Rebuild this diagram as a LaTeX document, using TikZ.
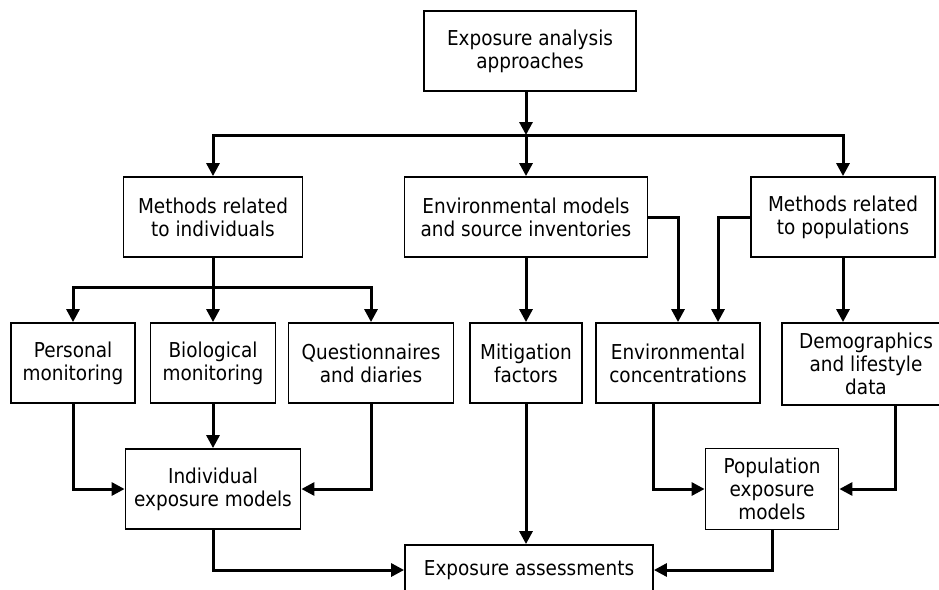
\documentclass[tikz,border=0pt]{standalone}
\usepackage{fontspec}
\setmainfont[FakeStretch=0.9]{DejaVu Sans}
\usetikzlibrary{arrows.meta}
\begin{document}
\begin{tikzpicture}[x=1pt, y=-1pt,
  box/.style={draw, line width=1.8pt, align=center, inner sep=0pt,
    font=\fontsize{20.5}{23}\selectfont},
  conn/.style={line width=3pt},
  arr/.style={conn, -{Triangle[length=13pt, width=13pt]}}]
  \useasboundingbox (0,0) rectangle (939,589);
  \clip (0,0) rectangle (939,589);
  % top
  \node[box, minimum width=212pt, minimum height=80pt] (approach) at (530,51) {Exposure analysis\\approaches};
  % second row
  \node[box, minimum width=179pt, minimum height=80pt] (indiv) at (213,217) {Methods related\\to individuals};
  \node[box, minimum width=243pt, minimum height=80pt] (envm) at (526,217) {Environmental models\\and source inventories};
  \node[box, minimum width=184pt, minimum height=80pt] (popm) at (843,217) {Methods related\\to populations};
  % third row
  \node[box, minimum width=124pt, minimum height=80pt] (personal) at (73,363) {Personal\\monitoring};
  \node[box, minimum width=125pt, minimum height=80pt] (bio) at (213,363) {Biological\\monitoring};
  \node[box, minimum width=165pt, minimum height=80pt] (quest) at (371,363) {Questionnaires\\and diaries};
  \node[box, minimum width=112pt, minimum height=80pt] (mitig) at (526,363) {Mitigation\\factors};
  \node[box, minimum width=164pt, minimum height=80pt] (envc) at (678,363) {Environmental\\concentrations};
  \node[box, minimum width=168pt, minimum height=82pt] (demo) at (866,364) {Demographics\\and lifestyle\\data};
  % models
  \node[box, minimum width=175pt, minimum height=80pt] (indmod) at (213,489) {Individual\\exposure models};
  \node[box, minimum width=133pt, minimum height=81pt] (popmod) at (772,489) {Population\\exposure\\models};
  \node[box, minimum width=248pt, minimum height=50pt] (assess) at (529,570) {Exposure assessments};
  % junctions
  \coordinate (split) at (526,135);
  \coordinate (isplit) at (213,287);
  % connectors
  \draw[arr] (split |- approach.south) -- (split);
  \draw[arr] (split) -| (indiv.north);
  \draw[arr] (split) -- (envm.north);
  \draw[arr] (split) -| (popm.north);
  \draw[conn] (indiv.south) -- (isplit);
  \draw[arr] (isplit) -| (personal.north);
  \draw[arr] (isplit) -- (bio.north);
  \draw[arr] (isplit) -| (quest.north);
  \draw[arr] (envm.south) -- (mitig.north);
  \draw[arr] (envm.east) -| (envc.north);
  \draw[arr] (popm.west) -| ([xshift=40pt]envc.north);
  \draw[arr] (popm.south) -- (popm.south |- demo.north);
  \draw[arr] (personal.south) |- (indmod.west);
  \draw[arr] (bio.south) -- (indmod.north);
  \draw[arr] (quest.south) |- (indmod.east);
  \draw[arr] ([xshift=-25pt]envc.south) |- (popmod.west);
  \draw[arr] ([xshift=29pt]demo.south) |- (popmod.east);
  \draw[arr] (mitig.south) -- (mitig.south |- assess.north);
  \draw[arr] (indmod.south) |- (assess.west);
  \draw[arr] (popmod.south) |- (assess.east);
\end{tikzpicture}
\end{document}
